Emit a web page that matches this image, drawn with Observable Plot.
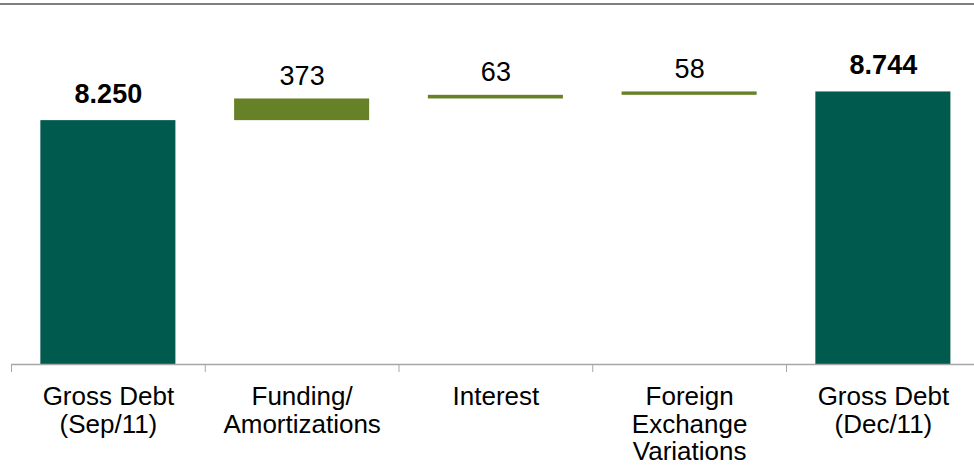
<!DOCTYPE html>
<html>
<head>
<meta charset="utf-8">
<script src="https://cdn.jsdelivr.net/npm/d3@7"></script>
<script src="https://cdn.jsdelivr.net/npm/@observablehq/plot@0.6"></script>
<style>
  html, body { margin: 0; padding: 0; background: #fff; }
  #wrap { position: relative; width: 974px; height: 467px; overflow: hidden; }
  #topline { position: absolute; left: 0; top: 3px; width: 974px; height: 2px; background: #7f7f7f; }
  #chart svg { display: block; }
</style>
</head>
<body>
<div id="wrap"><div id="topline"></div><div id="chart"></div></div>
<script>
const categories = ["Gross Debt (Sep/11)", "Funding/Amortizations", "Interest", "Foreign Exchange Variations", "Gross Debt (Dec/11)"];
const tickLabels = ["Gross Debt\n(Sep/11)", "Funding/\nAmortizations", "Interest", "Foreign\nExchange\nVariations", "Gross Debt\n(Dec/11)"];
const values = [8250, 373, 63, 58, 8744];
const kinds = ["total", "delta", "delta", "delta", "total"];
const yDomain = [4050, 10250];

const fmt = d3.formatLocale({decimal: ",", thousands: ".", grouping: [3], currency: ["", ""]}).format(",");

let running = 0;
const rows = categories.map((c, i) => {
  let lo, hi;
  if (kinds[i] === "total") { lo = yDomain[0]; hi = values[i]; running = values[i]; }
  else { lo = running; hi = running + values[i]; running = hi; }
  return {cat: c, label: tickLabels[i], value: values[i], kind: kinds[i], lo, hi};
});

const xRange = [11, 979.75];
const step = (xRange[1] - xRange[0]) / categories.length;
const colors = {total: "#005a4e", delta: "#668128"};

const chart = Plot.plot({
  width: 974,
  height: 467,
  marginTop: 4,
  marginBottom: 103,
  marginLeft: 11,
  marginRight: 0,
  style: {fontFamily: "'Liberation Sans', Arial, sans-serif", background: "#fff", overflow: "visible"},
  x: {domain: categories, range: xRange, paddingInner: 0.303, paddingOuter: 0.1515, round: false, label: null},
  y: {domain: yDomain, axis: null},
  marks: [
    Plot.barY(rows, {x: "cat", y1: "lo", y2: "hi", fill: d => colors[d.kind]}),
    Plot.ruleY([yDomain[0]], {stroke: "#a6a6a6", strokeWidth: 1.5}),
    Plot.axisX({tickSize: 8, dx: -step / 2, tickFormat: () => "", stroke: "#a6a6a6", label: null}),
    Plot.axisX({tickSize: 0, tickPadding: 21, fontSize: 26, lineHeight: 1.06, label: null,
      tickFormat: c => tickLabels[categories.indexOf(c)], fill: "#000"}),
    Plot.text(rows.filter(d => d.kind === "total"), {x: "cat", y: "hi", text: d => fmt(d.value),
      lineAnchor: "bottom", dy: -18, fontSize: 27, fontWeight: "bold", fill: "#000"}),
    Plot.text(rows.filter(d => d.kind === "delta"), {x: "cat", y: "hi", text: d => fmt(d.value),
      lineAnchor: "bottom", dy: -14, fontSize: 27, fill: "#000"})
  ]
});
document.getElementById("chart").appendChild(chart);
</script>
</body>
</html>
